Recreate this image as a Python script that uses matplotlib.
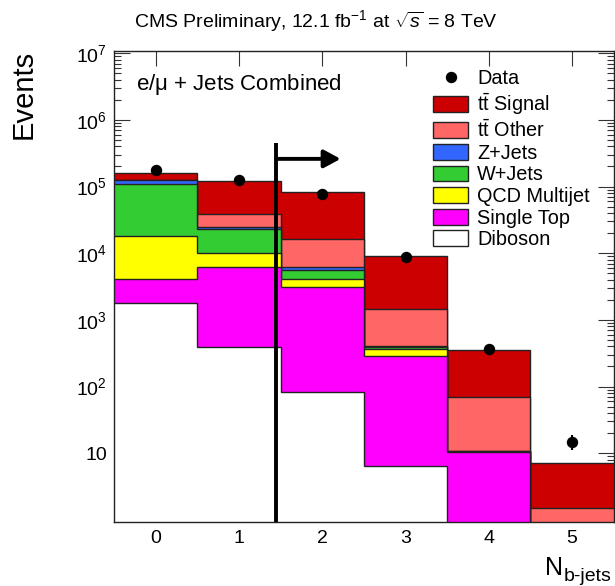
import matplotlib
matplotlib.use("Agg")
import matplotlib.pyplot as plt
import numpy as np
from matplotlib.ticker import FixedLocator, FuncFormatter, NullFormatter

plt.rcParams["font.family"] = ["Liberation Sans", "DejaVu Sans"]
plt.rcParams["mathtext.fontset"] = "custom"
plt.rcParams["mathtext.rm"] = "Liberation Sans"
plt.rcParams["mathtext.it"] = "Liberation Sans:italic"
plt.rcParams["mathtext.bf"] = "Liberation Sans:bold"

# b-jet multiplicity bins
nbjets = [0, 1, 2, 3, 4, 5]

# event yields per process, stacked bottom to top
diboson = [1790, 393, 82, 6.5, 0.5, 0.05]
single_top = [2310, 5907, 3078, 281.5, 9.8, 0.6]
qcd = [14000, 3700, 940, 82, 0.0, 0.0]
wjets = [89900, 13000, 1500, 28, 0.4, 0.05]
zjets = [18000, 2000, 600, 8, 0.1, 0.0]
tt_other = [1200, 13300, 10000, 1064, 60, 0.8]
tt_signal = [30800, 82700, 67800, 7630, 279, 5.6]

data = [177000, 126000, 77000, 8900, 365, 15]
data_err = [420, 355, 277, 94, 19, 3.9]

processes = [
    ("Diboson", diboson, "#ffffff"),
    ("Single Top", single_top, "#ff00ff"),
    ("QCD Multijet", qcd, "#ffff00"),
    ("W+Jets", wjets, "#33cc33"),
    ("Z+Jets", zjets, "#3366ff"),
    (r"$\mathrm{t\bar{t}}$ Other", tt_other, "#ff6666"),
    (r"$\mathrm{t\bar{t}}$ Signal", tt_signal, "#cc0000"),
]

ymin, ymax = 0.94, 1.09e7
edges = np.arange(len(nbjets) + 1) - 0.5

fig = plt.figure(figsize=(6.15, 5.86), dpi=100)
ax = fig.add_axes([0.1854, 0.1097, 0.8126, 0.8038])
ax.set_yscale("log")
ax.set_xlim(edges[0], edges[-1])
ax.set_ylim(ymin, ymax)

# cumulative stack, drawn from the top layer down so lower layers sit in front
cum = np.cumsum([np.array(p[1], dtype=float) for p in processes], axis=0)
handles = {}
for i in range(len(processes) - 1, -1, -1):
    name, _, col = processes[i]
    h = ax.stairs(cum[i], edges, baseline=1e-3, fill=True, color=col,
                  zorder=2 + (len(processes) - i) * 0.1)
    ax.stairs(cum[i], edges, baseline=None, color="#222222", linewidth=1.0,
              zorder=2.05 + (len(processes) - i) * 0.1)
    handles[name] = h

ax.errorbar(nbjets, data, yerr=data_err, fmt="o", color="black", markersize=7.2,
            elinewidth=1.5, capsize=0, zorder=10)

# selection cut on the number of b-jets
cut_x = 1.45
ax.plot([cut_x, cut_x], [ymin, 4.5e5], color="black", linewidth=2.8, zorder=9,
        solid_capstyle="butt")
ax.annotate("", xy=(2.22, 2.6e5), xytext=(cut_x, 2.6e5),
            arrowprops=dict(arrowstyle="-|>,head_length=0.5,head_width=0.27",
                            color="black", lw=2.8, shrinkA=0, shrinkB=0,
                            mutation_scale=20),
            zorder=9)

# axes styling
for s in ax.spines.values():
    s.set_color("#222222")
    s.set_linewidth(1.0)
    s.set_zorder(11)

ax.xaxis.set_major_locator(FixedLocator(nbjets))
ax.tick_params(axis="x", which="major", direction="in", length=10.5, width=0.8,
               top=True, bottom=True, labelsize=14, pad=6, color="#333333")
ax.tick_params(axis="x", which="minor", bottom=False, top=False)

majors = [10.0 ** k for k in range(0, 8)]
ax.yaxis.set_major_locator(FixedLocator(majors))
minors = [m * 10.0 ** k for k in range(0, 7) for m in range(2, 10)]
ax.yaxis.set_minor_locator(FixedLocator(minors))
ax.yaxis.set_minor_formatter(NullFormatter())


def fmt_decade(v, pos):
    k = int(round(np.log10(v)))
    if k == 0:
        return ""
    if k == 1:
        return "10"
    return r"$10^{%d}$" % k


ax.yaxis.set_major_formatter(FuncFormatter(fmt_decade))
ax.tick_params(axis="y", which="major", direction="in", length=11.3, width=0.8,
               left=True, right=True, labelsize=14, pad=5, color="#333333")
ax.tick_params(axis="y", which="minor", direction="in", length=5.3, width=0.8,
               left=True, right=True, color="#333333")

# legend
leg = ax.legend(
    [ax.errorbar([], [], fmt="o", color="black", markersize=7.2)[0]]
    + [handles[p[0]] for p in processes[::-1]],
    ["Data"] + [p[0] for p in processes[::-1]],
    loc="upper left", bbox_to_anchor=(433.3 / 615, 1 - 69.5 / 586),
    bbox_transform=fig.transFigure, frameon=False, fontsize=14.3,
    handlelength=1.76, handleheight=0.85, handletextpad=0.45,
    labelspacing=0.13, borderpad=0, borderaxespad=0,
)
for patch in leg.get_patches():
    patch.set_edgecolor("#222222")
    patch.set_linewidth(1.0)
leg.set_zorder(12)

ax.text(136.5 / 615, 1 - 90.0 / 586, r"e/$\mathrm{\mu}$ + Jets Combined",
        transform=fig.transFigure, fontsize=16, va="baseline", ha="left")

fig.text(498.0 / 615, 1 - 26.7 / 586,
         r"CMS Preliminary, 12.1 fb$^{-1}$ at $\sqrt{s}$ = 8 TeV",
         fontsize=14, ha="right", va="baseline")

fig.text(24.0 / 615, 1 - 50.0 / 586, "Events", rotation=90, fontsize=21,
         ha="center", va="top")

fig.text(545.0 / 615, 1 - 575.0 / 586, "N", fontsize=18, ha="left",
         va="baseline")
fig.text(563.5 / 615, 1 - 581.0 / 586, "b-jets", fontsize=14, ha="left",
         va="baseline")

fig.savefig("out.png", dpi=100)
